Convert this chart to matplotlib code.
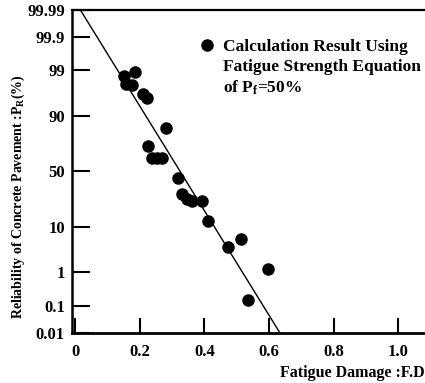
import numpy as np
import matplotlib
matplotlib.use("Agg")
import matplotlib.pyplot as plt
from matplotlib.lines import Line2D
from statistics import NormalDist

# Fuente parecida a la del escaneo
plt.rcParams['font.family'] = ['Liberation Serif', 'DejaVu Serif']
plt.rcParams['font.weight'] = 'bold'
plt.rcParams['mathtext.fontset'] = 'custom'
plt.rcParams['mathtext.rm'] = 'Liberation Serif:bold'
plt.rcParams['mathtext.it'] = 'Liberation Serif:bold'

# Datos: dano por fatiga y fiabilidad (%)
fatiga = [0.152, 0.186, 0.158, 0.176, 0.210, 0.223, 0.281, 0.226, 0.238, 0.254,
          0.269, 0.319, 0.331, 0.346, 0.362, 0.393, 0.411, 0.473, 0.513, 0.597, 0.535]
fiabilidad = [98.6, 98.85, 97.8, 97.7, 96.15, 95.5, 83.8, 71.7, 61.7, 61.7,
              61.7, 43.6, 29.9, 26.0, 24.5, 24.5, 12.5, 4.05, 5.9, 1.22, 0.153]

# Recta de ajuste
recta_x = [0.0155, 0.634]
recta_y = [99.99, 0.01]

marcas_y = [0.01, 0.1, 1, 10, 50, 90, 99, 99.9, 99.99]
etiquetas_y = ['0.01', '0.1', '1', '10', '50', '90', '99', '99.9', '99.99']
marcas_x = [0, 0.2, 0.4, 0.6, 0.8, 1.0]
etiquetas_x = ['0', '0.2', '0.4', '0.6', '0.8', '1.0']

nd = NormalDist()
_inv = np.vectorize(lambda v: nd.inv_cdf(v / 100.0), otypes=[float])
_cdf = np.vectorize(lambda v: nd.cdf(v) * 100.0, otypes=[float])


def a_z(p):
    p = np.clip(np.asarray(p, dtype=float), 1e-6, 100 - 1e-6)
    return _inv(p)


def de_z(z):
    return _cdf(np.asarray(z, dtype=float))


fig = plt.figure(figsize=(4.25, 3.83), dpi=100)
ax = fig.add_axes([0.169, 0.1305, 0.831, 0.8445])
ax.set_yscale('function', functions=(a_z, de_z))

ax.plot(recta_x, recta_y, color='black', lw=1.0)
ax.plot(fatiga, fiabilidad, 'o', color='black', ms=8, zorder=3)

ax.set_xlim(-0.0102, 1.0827)
ax.set_ylim(0.01, 99.99)

ax.set_yticks(marcas_y)
ax.set_yticklabels(etiquetas_y, fontsize=12)
ax.set_xticks(marcas_x)
ax.set_xticklabels(etiquetas_x, fontsize=12)
ax.minorticks_off()
ax.tick_params(axis='y', direction='in', length=13, width=1.5, pad=5)
ax.tick_params(axis='x', direction='in', length=11, width=1.5, pad=8)

ax.spines['right'].set_visible(False)
ax.spines['left'].set_linewidth(1.8)
ax.spines['bottom'].set_linewidth(2.0)
ax.spines['top'].set_linewidth(1.6)

# Leyenda: punto solo en la primera linea
manejadores = [Line2D([], [], marker='o', color='black', ls='none', ms=8),
               Line2D([], [], ls='none'),
               Line2D([], [], ls='none')]
textos = ['Calculation Result Using', 'Fatigue Strength Equation',
          r'of $\mathregular{P_f}$=50%']
fig.legend(manejadores, textos, loc='upper left', bbox_to_anchor=(199 / 425, 1 - 39 / 383),
           frameon=False, fontsize=12.5, handlelength=0.9, handletextpad=0.5,
           labelspacing=0.22, borderpad=0, borderaxespad=0)

fig.text(18 / 425, 1 - 197 / 383, r'Reliability of Concrete Pavement :$\mathregular{P_R}$(%)',
         rotation=90, ha='center', va='center', fontsize=10)
fig.text(280 / 425, 1 - 373 / 383, 'Fatigue Damage :F.D', ha='left', va='center', fontsize=11.5)

fig.savefig('out.png', dpi=100)
